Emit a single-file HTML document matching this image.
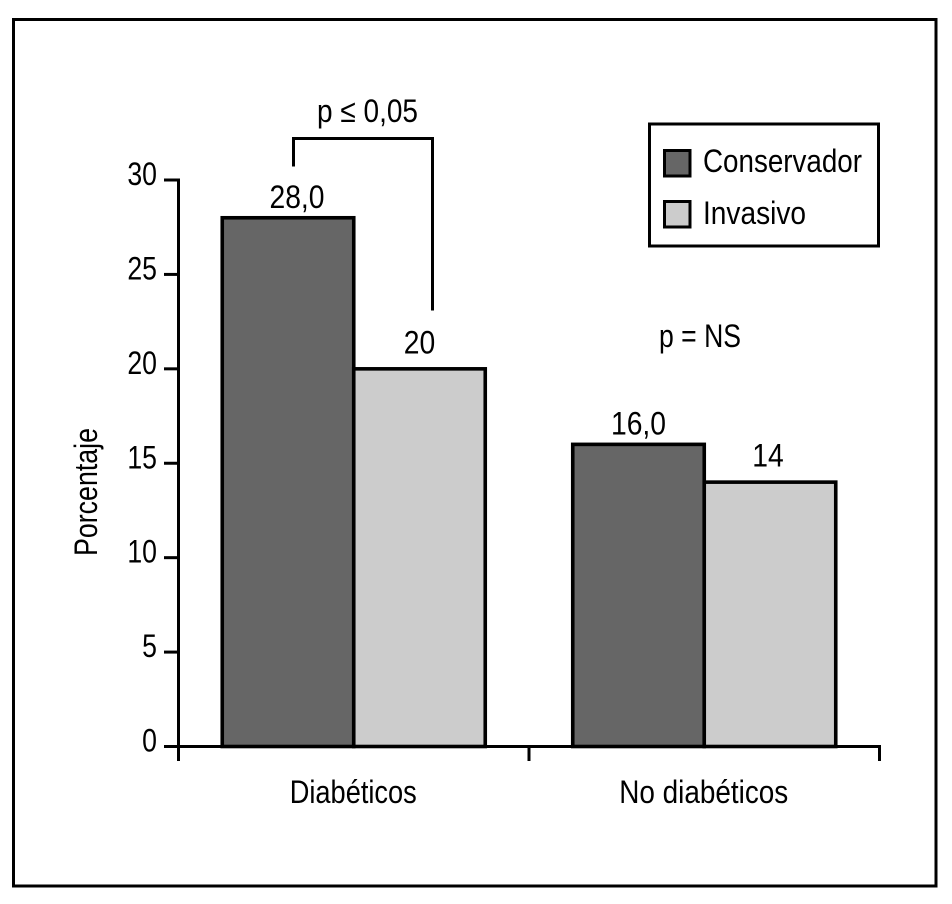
<!DOCTYPE html>
<html lang="es">
<head>
<meta charset="utf-8">
<title>Porcentaje por grupo</title>
<style>
html,body{margin:0;padding:0;background:#fff;width:952px;height:904px;overflow:hidden}
svg{display:block}
text{font-family:"Liberation Sans",sans-serif;font-size:32.5px;fill:#000}
</style>
</head>
<body>
<svg id="chart" width="952" height="904" viewBox="0 0 952 904" xmlns="http://www.w3.org/2000/svg">
  <rect x="13.5" y="19.5" width="922.5" height="866.5" fill="#fff" stroke="#000" stroke-width="3"/>
  <g id="marks"></g>
  <path d="M293.5 166.5V138.5H432.5V310.5" fill="none" stroke="#000" stroke-width="3"/>
  <text x="317" y="122" textLength="101" lengthAdjust="spacingAndGlyphs">p ≤ 0,05</text>
  <text x="659" y="347" textLength="82" lengthAdjust="spacingAndGlyphs">p = NS</text>
  <text transform="translate(97 556) rotate(-90)" textLength="128" lengthAdjust="spacingAndGlyphs">Porcentaje</text>
  <g>
    <rect x="649.5" y="124" width="229" height="122" fill="#fff" stroke="#000" stroke-width="3"/>
    <rect x="664.5" y="150.5" width="25.5" height="25.5" fill="#666" stroke="#000" stroke-width="3"/>
    <text x="703" y="172" textLength="159" lengthAdjust="spacingAndGlyphs">Conservador</text>
    <rect x="664.5" y="201.5" width="25.5" height="25.5" fill="#ccc" stroke="#000" stroke-width="3"/>
    <text x="703" y="224" textLength="103" lengthAdjust="spacingAndGlyphs">Invasivo</text>
  </g>
</svg>
<script>
var categories = ["Diabéticos", "No diabéticos"];
var conservador = [28, 16];
var invasivo = [20, 14];
var conservadorLabels = ["28,0", "16,0"];
var invasivoLabels = ["20", "14"];
var yTicks = [0, 5, 10, 15, 20, 25, 30];

var NS = "http://www.w3.org/2000/svg";
var marks = document.getElementById("marks");
var x0 = 178.5, x1 = 879.5, y0 = 746.5, yTop = 180, yMax = 30;
var bandW = (x1 - x0) / categories.length;
var barW = 131.5;

function yScale(v) { return y0 - (v / yMax) * (y0 - yTop); }
function bandStart(i) { return x0 + i * bandW; }
function make(tag, attrs) {
  var el = document.createElementNS(NS, tag);
  for (var k in attrs) { el.setAttribute(k, attrs[k]); }
  marks.appendChild(el);
  return el;
}
function line(x1p, y1p, x2p, y2p) {
  return make("line", { x1: x1p, y1: y1p, x2: x2p, y2: y2p, stroke: "#000", "stroke-width": 3 });
}
function label(txt, x, y, anchor, sx) {
  var t = make("text", { transform: "translate(" + x + " " + y + ") scale(" + sx + " 1)", "text-anchor": anchor });
  t.textContent = txt;
  return t;
}

yTicks.forEach(function (v) {
  var tick = line(164, yScale(v), x0, yScale(v));
  
  
  var tl = label(String(v), 157, yScale(v) + 5, "end", 0.82);
  
  
});

for (var t = 0; t <= categories.length; t++) {
  var xt = line(bandStart(t), y0, bandStart(t), 761);
  
  
}

categories.forEach(function (c, i) {
  var mid = bandStart(i) + bandW / 2;
  var a = mid - barW;
  var b = a + barW;

  var barA = make("rect", { x: a, y: yScale(conservador[i]), width: barW, height: y0 - yScale(conservador[i]), fill: "#666", stroke: "#000", "stroke-width": 3.6 });
  
  
  var barB = make("rect", { x: b, y: yScale(invasivo[i]), width: barW, height: y0 - yScale(invasivo[i]), fill: "#ccc", stroke: "#000", "stroke-width": 3.6 });
  
  

  var la = label(conservadorLabels[i], a + barW / 2 + (i === 0 ? 9 : 0), yScale(conservador[i]) - 10, "middle", 0.87);
  
  
  var lb = label(invasivoLabels[i], b + barW / 2 - (i === 0 ? 0 : 2), yScale(invasivo[i]) - 15.5, "middle", 0.87);
  
  

  var cl = make("text", { x: mid - (i === 0 ? 64 : 85), y: 803, textLength: i === 0 ? 127 : 169, lengthAdjust: "spacingAndGlyphs" });
  cl.textContent = c;
  
  
});

var axisY = line(x0, yTop - 1.5, x0, y0);


var axisX = line(x0, y0, x1 + 1.5, y0);


</script>
</body>
</html>
